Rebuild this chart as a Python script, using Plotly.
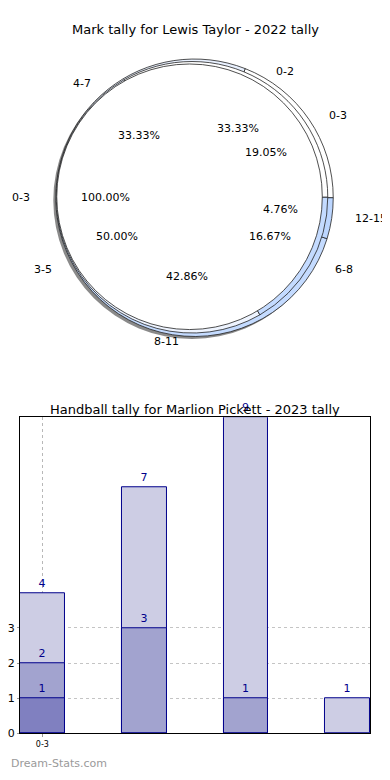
import math
import plotly.graph_objects as go

# ---------------- data ----------------
pie_title = "Mark tally for Lewis Taylor - 2022 tally"
outer_labels = ["0-3", "4-7", "8-11", "12-15"]
outer_values = [4, 7, 9, 1]
middle_labels = ["0-2", "3-5", "6-8"]
middle_values = [2, 3, 1]
inner_labels = ["0-3"]
inner_values = [1]

bar_title = "Handball tally for Marlion Pickett - 2023 tally"
bar_categories = ["0-3", "4-7", "8-11", "12-15"]
bar_total = [4, 7, 9, 1]
bar_mid = [2, 3, 1, 0]
bar_low = [1, 0, 0, 0]
y_ticks = [0, 1, 2, 3]

# ---------------- layout helpers ----------------
OFF = 8  # default page body margin
W, H = 390 - OFF, 780 - OFF
FONT = "DejaVu Sans"


def fx(x):
    return (x - OFF) / W


def fy(y):
    return 1 - (y - OFF) / H


def pie_domain(cx, cy, r):
    return dict(x=[fx(cx - r), fx(cx + r)], y=[fy(cy + r), fy(cy - r)])


fig = go.Figure()

# shadow
fig.add_trace(go.Pie(values=[1], labels=["shadow"], domain=pie_domain(191.5, 202, 140),
                     marker=dict(colors=["rgba(60,60,60,0.6)"], line=dict(width=0)),
                     textinfo="none", hoverinfo="skip", sort=False, showlegend=False))

outer_colors = ["#ffffff", "#e9f1ff", "#c4dbff", "#bcd6ff"]
middle_colors = ["#ffffff", "#eef4ff", "#c4dbff"]
inner_colors = ["#ffffff"]

for labels, values, colors, (cx, cy, r) in [
    (outer_labels, outer_values, outer_colors, (194, 199.5, 140)),
    (middle_labels, middle_values, middle_colors, (191.5, 199, 137)),
    (inner_labels, inner_values, inner_colors, (189, 198.5, 134)),
]:
    # first slice spans 0deg..a0 counter-clockwise from 3 o'clock (matplotlib style)
    a0 = 360 * values[0] / sum(values)
    fig.add_trace(go.Pie(values=values, labels=labels, domain=pie_domain(cx, cy, r),
                         marker=dict(colors=colors, line=dict(color="#222222", width=0.8)),
                         textinfo="none", sort=False, direction="counterclockwise",
                         rotation=90 - a0, showlegend=False))

# pie texts (positions derived from the data, matplotlib style)
cx, cy, rx, ry = 193, 199, 147, 133
annotations = []
for labels, values in [(outer_labels, outer_values), (middle_labels, middle_values),
                       (inner_labels, inner_values)]:
    total = sum(values)
    start = 0.0
    for lab, v in zip(labels, values):
        frac = v / total
        mid = math.radians(360 * (start + frac / 2))
        start += frac
        c, s = math.cos(mid), math.sin(mid)
        lx, ly = cx + 1.1 * rx * c, cy - 1.1 * ry * s
        annotations.append(dict(x=fx(lx), y=fy(ly), xref="paper", yref="paper",
                                text=lab, showarrow=False,
                                xanchor="left" if c > 0 else "right", yanchor="middle",
                                font=dict(family=FONT, size=11, color="#000000")))
        px, py = cx + 0.6 * rx * c, cy - 0.6 * ry * s
        annotations.append(dict(x=fx(px), y=fy(py), xref="paper", yref="paper",
                                text=f"{100 * frac:.2f}%", showarrow=False,
                                xanchor="center", yanchor="middle",
                                font=dict(family=FONT, size=11, color="#000000")))

# ---------------- bars ----------------
xs = list(range(len(bar_categories)))
for vals, color in [(bar_total, "#cdcde4"), (bar_mid, "#a2a3cf"), (bar_low, "#8080c0")]:
    fig.add_trace(go.Bar(
        x=xs, y=[v if v > 0 else None for v in vals], width=0.44,
        marker=dict(color=color, line=dict(color="#00008b", width=1)),
        text=[str(v) if v > 0 else "" for v in vals], textposition="outside",
        textfont=dict(family=FONT, size=11, color="#00008b"),
        cliponaxis=False, showlegend=False, xaxis="x", yaxis="y"))

annotations.append(dict(x=fx(195), y=fy(30), xref="paper", yref="paper",
                        text=pie_title, showarrow=False, xanchor="center", yanchor="middle",
                        font=dict(family=FONT, size=13, color="#000000")))
annotations.append(dict(x=fx(194.5), y=fy(413), xref="paper", yref="paper",
                        text=bar_title, showarrow=False, xanchor="center", yanchor="middle",
                        font=dict(family=FONT, size=13, color="#000000")))
annotations.append(dict(x=fx(8), y=fy(770), xref="paper", yref="paper",
                        text="Dream-Stats.com", showarrow=False, xanchor="left",
                        yanchor="middle",
                        font=dict(family=FONT, size=11, color="#9a9a9a")))

fig.update_layout(
    width=W, height=H, margin=dict(l=0, r=0, t=0, b=0),
    paper_bgcolor="white", plot_bgcolor="white",
    barmode="overlay", bargap=0,
    annotations=annotations,
    xaxis=dict(domain=[fx(19), fx(370)], range=[-0.22, 3.22],
               tickvals=[0], ticktext=[bar_categories[0]],
               tickfont=dict(family=FONT, size=8, color="#000000"),
               showgrid=True, gridcolor="#b8b8b8", griddash="dot", gridwidth=1,
               showline=True, linecolor="#000000", linewidth=1, mirror=True,
               ticks="outside", ticklen=3, tickcolor="#999999",
               zeroline=False, fixedrange=True),
    yaxis=dict(domain=[fy(740), fy(421)], range=[0, 9],
               tickvals=y_ticks, ticktext=[str(t) for t in y_ticks],
               tickfont=dict(family=FONT, size=11, color="#000000"),
               showgrid=True, gridcolor="#c4c4c4", griddash="dot", gridwidth=1,
               showline=True, linecolor="#000000", linewidth=1, mirror=True,
               ticks="outside", ticklen=2, tickcolor="#999999",
               zeroline=False, fixedrange=True),
)

fig.write_html("out.html")
